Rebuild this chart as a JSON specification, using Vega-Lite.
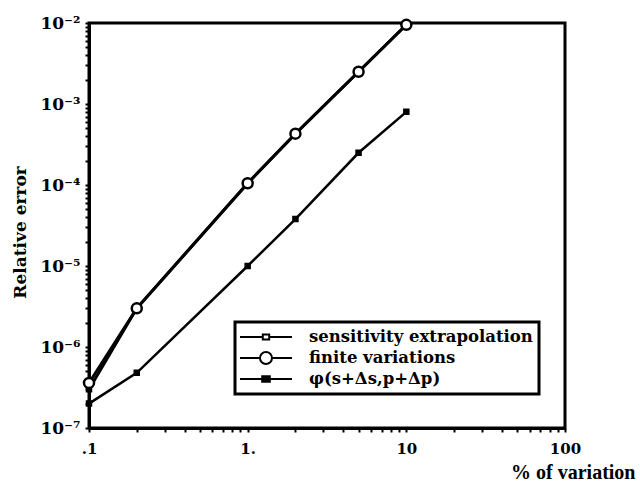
{
  "$schema": "https://vega.github.io/schema/vega-lite/v6.json",
  "width": 476,
  "height": 405,
  "autosize": {"type": "none"},
  "padding": {"left": 89, "top": 23, "right": 75, "bottom": 61},
  "background": "white",
  "config": {
    "view": {"stroke": "black", "strokeWidth": 3},
    "font": "DejaVu Serif",
    "legend": {"strokeWidth": 3},
    "axis": {
      "grid": false,
      "domainColor": "black",
      "domainWidth": 3,
      "tickColor": "black",
      "tickWidth": 2,
      "tickSize": 4,
      "labelColor": "black",
      "titleColor": "black",
      "labelFlush": false,
      "labelOverlap": false,
      "labelBound": false
    }
  },
  "data": {
    "values": [
      {"pct": 0.1, "err": 3.0e-7, "series": "sensitivity extrapolation"},
      {"pct": 0.2, "err": 3.0e-6, "series": "sensitivity extrapolation"},
      {"pct": 1, "err": 1.05e-4, "series": "sensitivity extrapolation"},
      {"pct": 2, "err": 4.3e-4, "series": "sensitivity extrapolation"},
      {"pct": 5, "err": 2.5e-3, "series": "sensitivity extrapolation"},
      {"pct": 10, "err": 9.5e-3, "series": "sensitivity extrapolation"},
      {"pct": 0.1, "err": 3.6e-7, "series": "finite variations"},
      {"pct": 0.2, "err": 3.0e-6, "series": "finite variations"},
      {"pct": 1, "err": 1.05e-4, "series": "finite variations"},
      {"pct": 2, "err": 4.3e-4, "series": "finite variations"},
      {"pct": 5, "err": 2.5e-3, "series": "finite variations"},
      {"pct": 10, "err": 9.5e-3, "series": "finite variations"},
      {"pct": 0.1, "err": 2.0e-7, "series": "φ(s+Δs,p+Δp)"},
      {"pct": 0.2, "err": 4.8e-7, "series": "φ(s+Δs,p+Δp)"},
      {"pct": 1, "err": 1.0e-5, "series": "φ(s+Δs,p+Δp)"},
      {"pct": 2, "err": 3.8e-5, "series": "φ(s+Δs,p+Δp)"},
      {"pct": 5, "err": 2.5e-4, "series": "φ(s+Δs,p+Δp)"},
      {"pct": 10, "err": 8.0e-4, "series": "φ(s+Δs,p+Δp)"}
    ]
  },
  "encoding": {
    "x": {
      "field": "pct",
      "type": "quantitative",
      "scale": {"type": "log", "domain": [0.1, 100], "nice": false},
      "axis": {
        "title": "% of variation",
        "titleFont": "Liberation Serif",
        "titleFontWeight": "bold",
        "titleFontSize": 20,
        "titleAlign": "right",
        "titleBaseline": "middle",
        "titleX": 546,
        "titleY": 44,
        "values": [0.1, 0.2, 0.3, 0.4, 0.5, 0.6, 0.7, 0.8, 0.9, 1, 2, 3, 4, 5, 6, 7, 8, 9, 10, 20, 30, 40, 50, 60, 70, 80, 90, 100],
        "labelExpr": "datum.value == 0.1 ? '.1' : datum.value == 1 ? '1.' : datum.value == 10 ? '10' : datum.value == 100 ? '100' : ''",
        "labelFont": "DejaVu Serif",
        "labelFontWeight": "bold",
        "labelFontSize": 15,
        "labelPadding": 9,
        "encode": {
          "labels": {
            "update": {
              "align": {"signal": "datum.value == 100 ? 'left' : 'center'"},
              "fontSize": {"signal": "datum.value == 100 ? 19 : 15"},
              "font": {"signal": "datum.value == 100 ? 'Liberation Serif' : 'DejaVu Serif'"}
            }
          }
        }
      }
    },
    "y": {
      "field": "err",
      "type": "quantitative",
      "scale": {"type": "log", "domain": [1e-7, 1e-2], "nice": false},
      "axis": {
        "title": "Relative error",
        "titleFont": "DejaVu Serif",
        "titleFontWeight": "bold",
        "titleFontSize": 17,
        "titleAngle": 270,
        "titleAlign": "center",
        "titleBaseline": "middle",
        "titleX": -69,
        "titleY": 209,
        "values": [1e-7, 2e-7, 3e-7, 4e-7, 5e-7, 6e-7, 7e-7, 8e-7, 9e-7, 1e-6, 2e-6, 3e-6, 4e-6, 5e-6, 6e-6, 7e-6, 8e-6, 9e-6, 1e-5, 2e-5, 3e-5, 4e-5, 5e-5, 6e-5, 7e-5, 8e-5, 9e-5, 1e-4, 2e-4, 3e-4, 4e-4, 5e-4, 6e-4, 7e-4, 8e-4, 9e-4, 1e-3, 2e-3, 3e-3, 4e-3, 5e-3, 6e-3, 7e-3, 8e-3, 9e-3, 1e-2],
        "labelExpr": "abs(log(datum.value)/LN10 - round(log(datum.value)/LN10)) < 0.001 ? '10⁻' + ['⁰','¹','²','³','⁴','⁵','⁶','⁷','⁸'][-round(log(datum.value)/LN10)] : ''",
        "labelFont": "DejaVu Serif",
        "labelFontWeight": "bold",
        "labelFontSize": 17,
        "labelPadding": 5
      }
    }
  },
  "layer": [
    {
      "mark": {"type": "line", "color": "black"},
      "encoding": {
        "detail": {"field": "series", "type": "nominal"},
        "strokeWidth": {
          "condition": {"test": "datum.series == 'φ(s+Δs,p+Δp)'", "value": 2.5},
          "value": 3
        }
      }
    },
    {
      "mark": {"type": "point", "filled": true, "opacity": 1, "stroke": "black", "strokeWidth": 2.5},
      "encoding": {
        "shape": {
          "condition": {"test": "datum.series == 'finite variations'", "value": "circle"},
          "value": "square"
        },
        "fill": {
          "condition": {"test": "datum.series == 'finite variations'", "value": "white"},
          "value": "black"
        },
        "size": {
          "condition": {"test": "datum.series == 'finite variations'", "value": 100},
          "value": 16
        }
      }
    },
    {
      "transform": [{"filter": "datum.pct > 1000"}],
      "mark": {"type": "point", "filled": false, "color": "black", "strokeWidth": 2, "opacity": 1},
      "encoding": {
        "shape": {
          "field": "series",
          "type": "nominal",
          "scale": {
            "domain": ["sensitivity extrapolation", "finite variations", "φ(s+Δs,p+Δp)"],
            "range": [
              "M-1.25,0H1.6M2.4,0H5.25M1.6,-0.3H2.4V0.3H1.6Z",
              "M-1.25,0H1.25M2.75,0H5.25M2.75,0A0.75,0.75 0 1,1 1.25,0A0.75,0.75 0 1,1 2.75,0Z",
              "M-1.25,0H5.25M1.4,-0.35H2.6M1.4,-0.2H2.6M1.4,-0.05H2.6M1.4,0.1H2.6M1.4,0.25H2.6M1.4,0.35H2.6"
            ]
          },
          "legend": {
            "title": null,
            "orient": "none",
            "legendX": 146,
            "legendY": 299,
            "padding": 6,
            "fillColor": "white",
            "strokeColor": "black",
            "labelFont": "DejaVu Serif",
            "labelFontWeight": "bold",
            "labelFontSize": 16.5,
            "labelColor": "black",
            "labelLimit": 400,
            "symbolSize": 256,
            "symbolStrokeWidth": 2,
            "symbolStrokeColor": "black",
            "labelOffset": 50,
            "rowPadding": 2
          }
        }
      }
    }
  ]
}
